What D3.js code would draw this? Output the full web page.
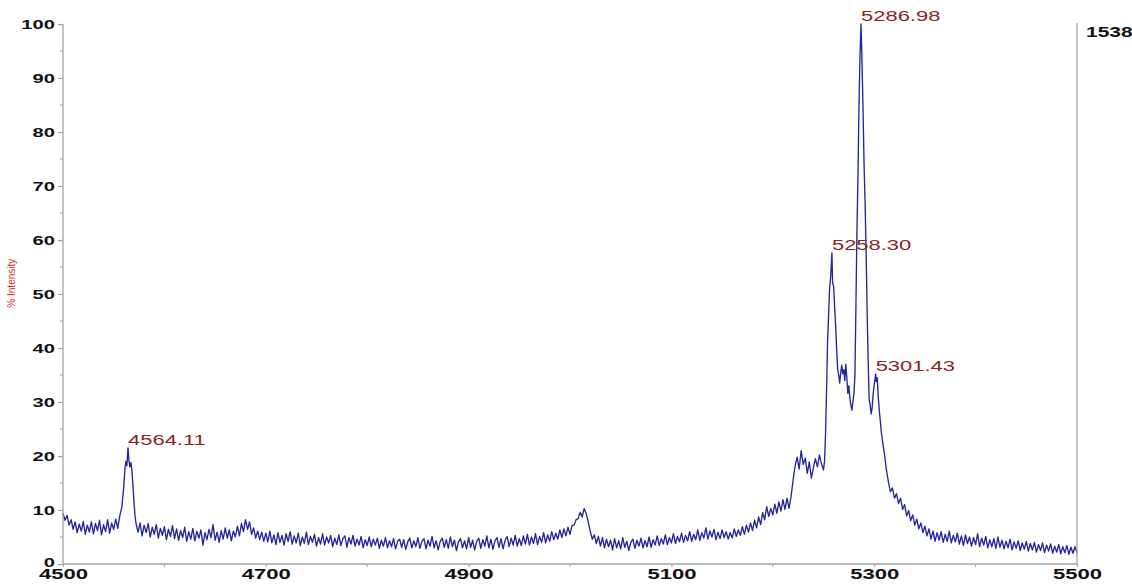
<!DOCTYPE html>
<html><head><meta charset="utf-8">
<script src="https://cdn.jsdelivr.net/npm/d3@7"></script>
<style>body{margin:0;background:#fff;}svg{display:block;}</style>
</head><body>
<svg id="c" width="1132" height="587"></svg>
<script>
// ---- data: [m/z, % intensity] ----
const segStart = [[4500,9.4],[4502,8.1],[4504,9.0],[4506,7.2],[4508,8.2],[4510,6.4],[4512,7.8],[4514,5.8],[4516,7.4],[4518,6.1],[4520,7.9],[4522,5.5],[4524,7.2],[4526,5.9],[4528,7.8],[4530,5.6],[4532,7.5],[4534,6.2],[4536,8.1],[4538,5.4],[4540,7.3],[4542,6.0],[4544,8.2],[4546,5.7],[4548,7.6],[4550,6.4],[4552,8.3],[4554,6.6],[4556,8.9]];
const segPeak4564 = [[4558,10.5],[4560,14.5],[4561,17.5],[4562,19.0],[4563,18.2],[4564.11,21.5],[4565,19.2],[4566,18.0],[4567,18.8],[4568,17.2],[4569,14.5],[4570,11.5],[4571,9.0],[4572,7.5],[4574,5.9],[4576,7.6]];
const segBaseline1 = [[4578,5.2],[4580,7.2],[4582,5.8],[4584,7.5],[4586,5.0],[4588,6.8],[4590,5.5],[4592,7.3],[4594,4.8],[4596,6.6],[4598,5.3],[4600,6.9],[4602,4.5],[4604,6.4],[4606,5.1],[4608,7.1],[4610,4.7],[4612,6.5],[4614,4.4],[4616,6.2],[4618,4.9],[4620,6.8],[4622,4.2],[4624,6.0],[4626,4.6],[4628,6.6],[4630,4.3],[4632,6.1],[4634,4.8],[4636,6.3],[4638,3.5],[4640,5.8],[4642,4.5],[4644,6.4],[4646,4.9],[4648,7.3],[4650,4.4],[4652,5.9],[4654,4.0],[4656,6.2],[4658,4.6],[4660,6.7],[4662,4.8],[4664,6.3],[4666,4.3],[4668,6.1],[4670,5.0],[4672,7.0],[4674,5.2],[4676,7.5],[4678,6.0],[4680,8.2],[4682,6.4],[4684,7.8],[4686,5.5],[4688,6.7],[4690,4.8],[4692,6.1],[4694,4.5],[4696,5.9],[4698,4.2],[4700,5.7]];
const segBaseline2 = [[4702,4.1],[4704,6.1],[4706,3.9],[4708,5.4],[4710,3.6],[4712,5.8],[4714,4.0],[4716,5.3],[4718,3.5],[4720,5.6],[4722,4.2],[4724,6.0],[4726,3.7],[4728,5.2],[4730,3.9],[4732,5.7],[4734,3.4],[4736,5.0],[4738,3.8],[4740,5.9],[4742,3.6],[4744,5.1],[4746,4.0],[4748,5.5],[4750,3.3],[4752,4.9],[4754,3.7],[4756,5.6],[4758,3.5],[4760,5.0],[4762,3.9],[4764,5.3],[4766,3.2],[4768,4.8],[4770,3.6],[4772,5.4],[4774,3.4],[4776,4.7],[4778,5.2],[4780,3.1],[4782,4.9],[4784,3.7],[4786,5.3],[4788,3.3],[4790,4.6],[4792,3.5],[4794,5.1],[4796,3.0],[4798,4.5],[4800,3.4],[4802,5.0],[4804,3.2],[4806,4.6],[4808,3.5],[4810,4.8],[4812,2.9],[4814,4.4],[4816,3.3],[4818,4.9],[4820,3.0],[4822,4.3],[4824,3.2],[4826,4.7],[4828,2.8],[4830,4.2],[4832,4.6],[4834,3.1],[4836,4.5],[4838,2.7],[4840,4.1],[4842,4.8],[4844,3.0],[4846,4.3],[4848,3.2],[4850,4.9],[4852,2.9],[4854,4.2],[4856,4.7],[4858,2.8],[4860,4.4],[4862,3.3],[4864,5.1],[4866,3.0],[4868,4.3],[4870,2.6],[4872,4.2],[4874,4.8],[4876,3.1],[4878,4.5],[4880,2.9],[4882,5.0],[4884,3.2],[4886,4.4],[4888,2.5],[4890,4.1],[4892,4.7],[4894,3.0],[4896,4.3],[4898,2.8],[4900,4.9],[4902,3.1],[4904,4.4],[4906,2.6],[4908,4.2],[4910,4.8],[4912,2.9],[4914,4.5],[4916,3.3],[4918,5.2],[4920,3.0],[4922,4.6],[4924,2.7],[4926,4.3],[4928,4.9],[4930,3.1],[4932,4.7],[4934,2.8],[4936,4.4],[4938,5.1],[4940,3.2],[4942,4.8],[4944,3.5],[4946,5.3],[4948,3.3],[4950,4.7],[4952,3.4],[4954,5.2],[4956,3.7],[4958,5.5],[4960,3.5],[4962,5.0],[4964,3.8],[4966,5.6],[4968,3.6],[4970,5.1],[4972,4.0],[4974,5.8],[4976,3.9],[4978,5.4],[4980,4.2],[4982,6.0],[4984,4.5],[4986,5.7],[4988,4.6],[4990,6.3],[4992,4.9],[4994,6.5],[4996,5.2],[4998,6.8],[5000,5.5],[5002,7.1]];
const segBump5012 = [[5004,7.2],[5006,8.2],[5008,8.4],[5010,9.6],[5012,8.7],[5014,10.3],[5016,9.3],[5018,7.8],[5020,6.0],[5022,4.6],[5024,5.4],[5026,3.8],[5028,5.1],[5030,3.3]];
const segBaseline3 = [[5032,4.9],[5034,3.0],[5036,4.6],[5038,3.2],[5040,4.4],[5042,2.6],[5044,4.7],[5046,3.0],[5048,4.3],[5050,2.8],[5052,4.9],[5054,3.1],[5056,4.2],[5058,2.5],[5060,4.0],[5062,4.6],[5064,2.9],[5066,4.4],[5068,3.3],[5070,4.8],[5072,3.0],[5074,4.3],[5076,3.2],[5078,5.0],[5080,3.1],[5082,4.5],[5084,3.5],[5086,5.2],[5088,3.4],[5090,4.7],[5092,3.7],[5094,5.4],[5096,3.6],[5098,4.9],[5100,3.9],[5102,5.6],[5104,3.8],[5106,5.1],[5108,4.1],[5110,5.7],[5112,4.0],[5114,5.3],[5116,4.3],[5118,6.0],[5120,4.2],[5122,5.5],[5124,4.5],[5126,6.3],[5128,4.4],[5130,5.8],[5132,4.8],[5134,6.7],[5136,4.6],[5138,6.1],[5140,5.0],[5142,6.4],[5144,4.5],[5146,5.9],[5148,4.7],[5150,6.3],[5152,4.9],[5154,6.0],[5156,4.6],[5158,5.8],[5160,4.8],[5162,6.5],[5164,5.1],[5166,6.3],[5168,5.3],[5170,6.9],[5172,5.5],[5174,7.2],[5176,5.9],[5178,7.6],[5180,6.2],[5182,8.1],[5184,6.7],[5186,8.7],[5188,7.3],[5190,9.5],[5192,8.2],[5194,10.6],[5196,8.8],[5198,10.3],[5200,9.1],[5202,11.1],[5204,9.4],[5206,11.5],[5208,9.8],[5210,11.9],[5212,10.1],[5214,12.2],[5216,10.3],[5218,12.5]];
const segCluster = [[5220,15.5],[5222,18.2],[5224,19.8],[5226,17.6],[5228,21.0],[5230,18.4],[5232,19.6],[5234,16.8],[5236,18.9],[5238,15.9],[5240,17.8],[5242,19.5],[5244,18.0],[5246,20.2],[5248,18.6],[5250,17.4],[5251,19.0],[5252,24.0],[5253,32],[5254,41],[5255,46],[5256,51],[5257,53],[5258.3,57.6],[5259,52],[5260,51.5],[5261,47.5],[5262,44],[5263,39.6],[5264,36],[5265,35],[5266,33.5],[5267,35.5],[5268,36.8],[5269,35.2],[5270,36.0],[5271,34.0],[5272,37.0],[5273,34.5],[5274,31.6],[5275,33],[5276,30.8],[5277,29.5],[5278,28.5],[5279,30.0],[5280,31.5],[5281,35],[5282,48],[5283,62],[5284,72],[5285,85],[5286,94],[5286.98,100],[5288,93],[5289,84],[5290,74],[5291,67],[5292,58],[5293,47],[5294,38],[5295,30.5],[5296,29.5],[5297,27.8],[5298,29.0],[5299,31.5],[5300,33.2],[5301.43,35.2],[5302,33.8],[5303,34.5],[5304,31],[5305,28.5],[5306,26.5],[5307,24.5],[5308,23.0],[5310,20.5],[5312,17.5],[5314,15.2],[5316,13.4],[5318,14.1],[5320,12.2]];
const segTail = [[5322,13.0],[5324,11.2],[5326,12.2],[5328,10.1],[5330,11.0],[5332,8.9],[5334,9.9],[5336,8.0],[5338,9.1],[5340,7.2],[5342,8.3],[5344,6.5],[5346,7.6],[5348,5.8],[5350,7.0],[5352,5.2],[5354,6.5],[5356,4.6],[5358,6.1],[5360,4.2],[5362,5.8],[5364,4.4],[5366,6.0],[5368,4.0],[5370,5.5],[5372,4.2],[5374,6.1],[5376,3.9],[5378,5.3],[5380,4.1],[5382,5.7],[5384,3.7],[5386,5.2],[5388,3.4],[5390,5.4],[5392,3.8],[5394,5.0],[5396,3.3],[5398,4.9],[5400,3.6],[5402,5.6],[5404,3.2],[5406,4.8],[5408,3.5],[5410,5.1],[5412,3.0],[5414,4.5],[5416,3.2],[5418,4.7],[5420,2.9],[5422,5.0],[5424,3.1],[5426,4.4],[5428,2.8],[5430,4.2],[5432,3.0],[5434,4.6],[5436,2.6],[5438,4.1],[5440,2.9],[5442,4.3],[5444,2.5],[5446,3.9],[5448,2.7],[5450,4.2],[5452,2.4],[5454,3.8],[5456,2.6],[5458,4.0],[5460,2.2],[5462,3.6],[5464,2.5],[5466,3.9],[5468,2.1],[5470,3.5],[5472,2.4],[5474,3.7],[5476,2.0],[5478,3.3],[5480,2.2],[5482,3.6],[5484,1.9],[5486,3.2],[5488,2.1],[5490,3.4],[5492,1.8],[5494,3.1],[5496,2.0],[5498,3.2],[5500,2.1]];

const peakMasses = [4564.11, 5258.30, 5286.98, 5301.43];
const peakIntensities = [21.5, 57.6, 100, 35.2];
const peakLabels = ["4564.11", "5258.30", "5286.98", "5301.43"];

const yTickValues = [0,10,20,30,40,50,60,70,80,90,100];
const yMinorValues = [5,15,25,35,45,55,65,75,85,95];
const xTickValues = [4500,4700,4900,5100,5300,5500];
const xMinorValues = [4600,4800,5000,5200,5400];
const yAxisTitle = "% Intensity";
const maxCounts = "1538";

// ---- drawing ----
const spectrum = [].concat(segStart, segPeak4564, segBaseline1, segBaseline2, segBump5012, segBaseline3, segCluster, segTail);
const svg = d3.select("#c");
const x = d3.scaleLinear().domain([4500,5500]).range([63,1077]);
const y = d3.scaleLinear().domain([0,100]).range([564,24]);
const axisColor = "#a3a3a3";

// spectrum line
svg.append("path")
  .datum(spectrum)
  .attr("fill","none")
  .attr("stroke","#24279a")
  .attr("stroke-width",1.35)
  .attr("stroke-linejoin","round")
  .attr("d", d3.line().x(d=>x(d[0])).y(d=>y(d[1])));

// left axis
const gy = svg.append("g").attr("transform","translate(63,0)")
  .call(d3.axisLeft(y).tickValues(yTickValues).tickSize(5).tickFormat(d3.format("d")));
gy.select(".domain").attr("stroke",axisColor).attr("stroke-width",1.3).attr("d","M0,24V564");
gy.selectAll(".tick line").attr("stroke",axisColor).attr("stroke-width",1.2);
gy.selectAll(".tick text")
  .attr("x",-5.2).attr("dy",d=>d===0?"0.2em":"0.36em")
  .attr("transform","scale(1.55,1)")
  .style("font-family","'Liberation Sans', Arial, sans-serif")
  .style("font-weight","bold").style("font-size","13px").attr("fill","#111");
svg.append("g").selectAll("line").data(yMinorValues).join("line")
  .attr("x1",60).attr("x2",63).attr("y1",d=>y(d)).attr("y2",d=>y(d))
  .attr("stroke",axisColor).attr("stroke-width",1);

// bottom axis
const gx = svg.append("g").attr("transform","translate(0,564)")
  .call(d3.axisBottom(x).tickValues(xTickValues).tickSize(3).tickFormat(d3.format("d")));
gx.select(".domain").attr("stroke",axisColor).attr("stroke-width",1.3).attr("d","M63,0H1077");
gx.selectAll(".tick line").attr("stroke",axisColor).attr("stroke-width",1.2);
gx.selectAll(".tick text")
  .attr("y",15.5).attr("dy",0)
  .attr("transform","scale(1.47,1)")
  .style("font-family","'Liberation Sans', Arial, sans-serif")
  .style("font-weight","bold").style("font-size","15px").attr("fill","#111");
svg.append("g").selectAll("line").data(xMinorValues).join("line")
  .attr("x1",d=>x(d)).attr("x2",d=>x(d)).attr("y1",564).attr("y2",567)
  .attr("stroke",axisColor).attr("stroke-width",1);

// right axis line
svg.append("line").attr("x1",x(5500)).attr("x2",x(5500)).attr("y1",y(100)-1).attr("y2",y(0))
  .attr("stroke",axisColor).attr("stroke-width",1.3);

// max counts label
svg.append("text")
  .attr("transform",`translate(${x(5500)+9},${y(100)+13}) scale(1.5,1)`)
  .style("font-family","'Liberation Sans', Arial, sans-serif")
  .style("font-weight","bold").style("font-size","14px").attr("fill","#111")
  .text(maxCounts);

// y axis title
svg.append("text")
  .attr("transform",`translate(15,${y(52)}) rotate(-90)`)
  .attr("text-anchor","middle")
  .style("font-family","'Liberation Sans', Arial, sans-serif")
  .style("font-size","10px").attr("fill","#e0262b")
  .text(yAxisTitle);

// peak labels
svg.append("g").selectAll("text").data(peakMasses).join("text")
  .attr("transform",(d,i)=>`translate(${x(d)},${y(peakIntensities[i])-3}) scale(1.57,1)`)
  .style("font-family","'Liberation Sans', Arial, sans-serif")
  .style("font-size","14px").attr("fill","#8c1f22")
  .text((d,i)=>peakLabels[i]);
</script>
</body></html>
